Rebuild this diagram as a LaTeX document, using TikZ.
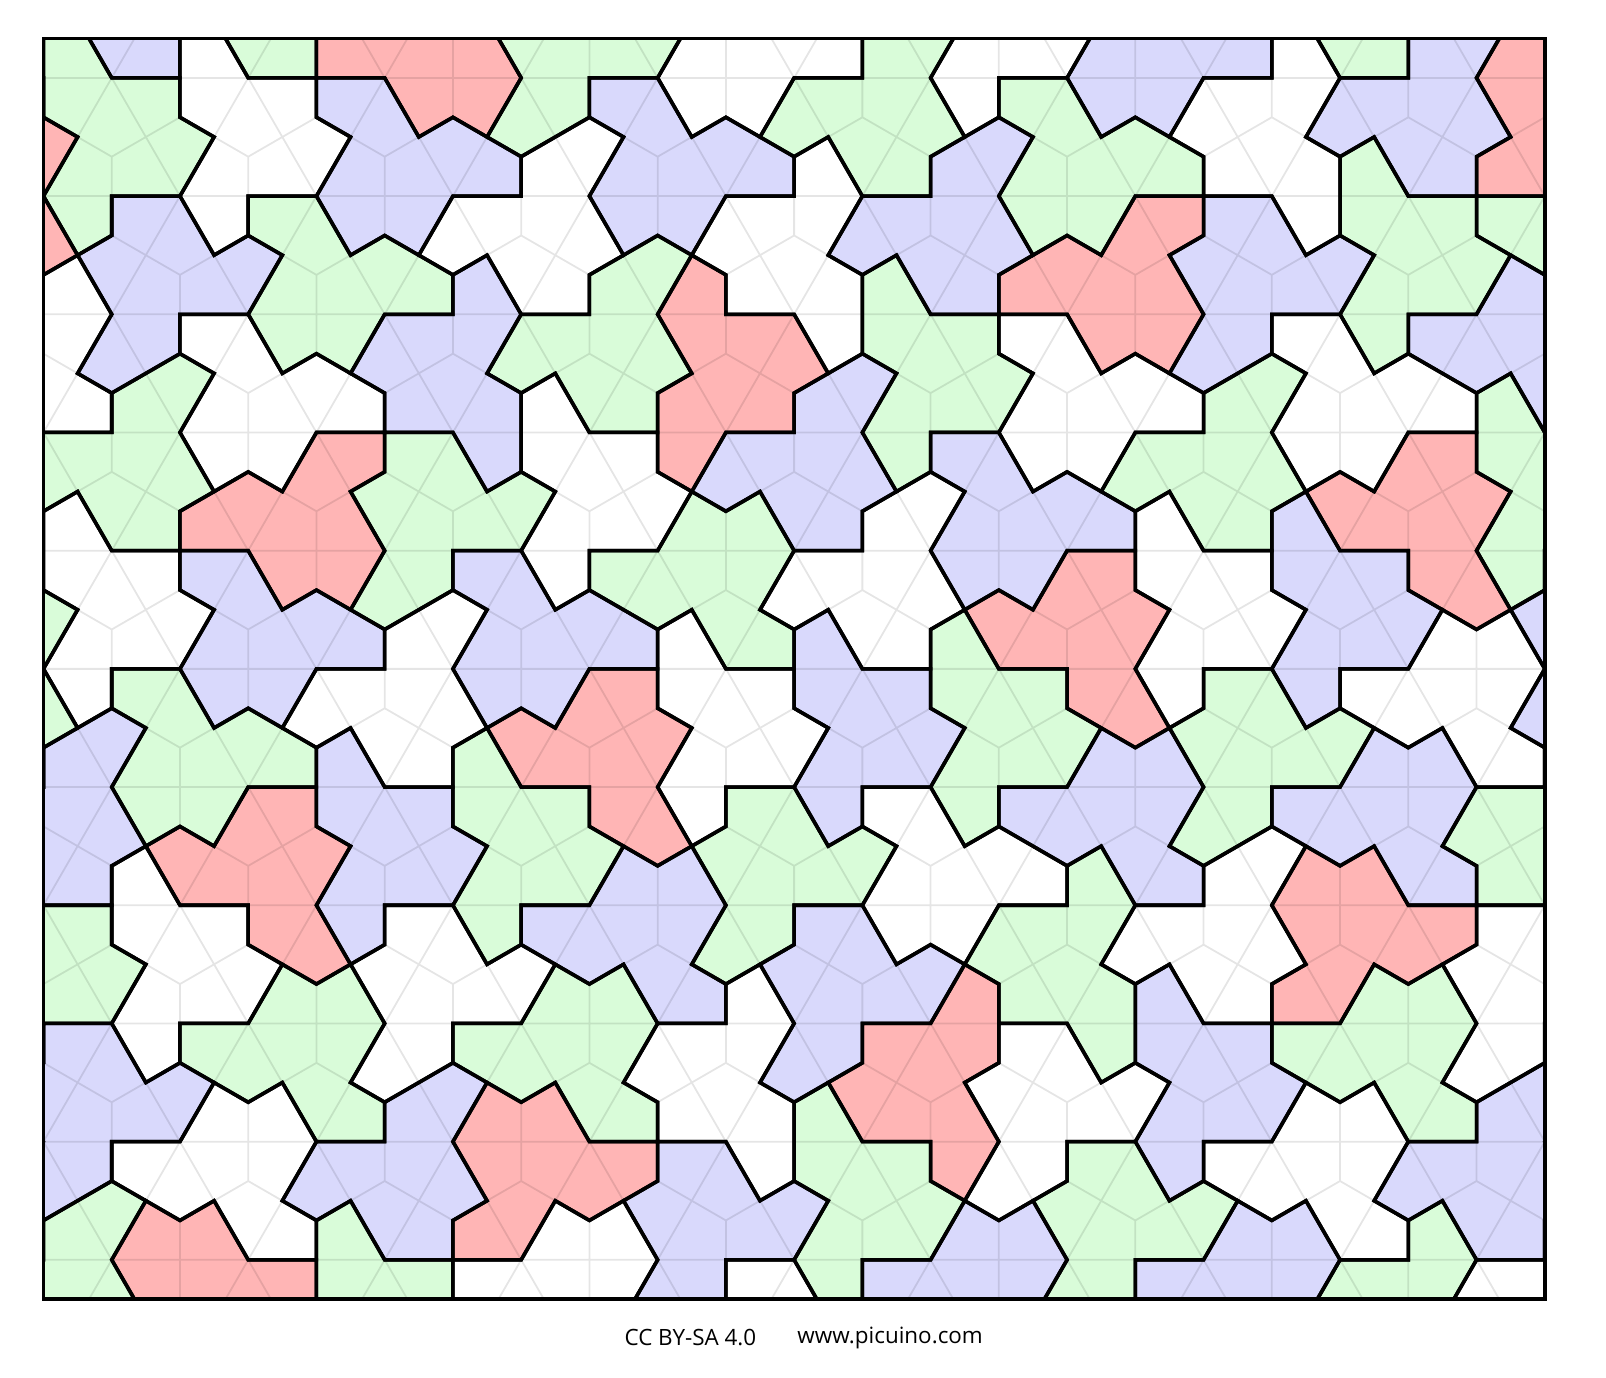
\documentclass[tikz,border=0pt]{standalone}
\usepackage{fontspec}
\newfontfamily\notefont{Open Sans}
\definecolor{tgreen}{RGB}{217,252,217}
\definecolor{tblue}{RGB}{217,217,252}
\definecolor{tred}{RGB}{255,181,181}
\begin{document}
\begin{tikzpicture}[x=1cm,y=1cm,
  gridsty/.style={line width=0.045cm,draw=black,draw opacity=0.1},
  tileedge/.style={line width=0.09cm,draw=black,line join=miter},
  framesty/.style={line width=0.09cm,draw=black}]
\useasboundingbox (-1.104,0.977) rectangle (39.66,-33.997);
\def\hatpath{(0,0) -- (-1.5,-0.8660254) -- (-1,-1.7320508) -- (1,-1.7320508) -- (1.5,-0.8660254) -- (3,-1.7320508) -- (4.5,-0.8660254) -- (4,0) -- (3,0) -- (3,1.7320508) -- (1.5,2.5980762) -- (1,1.7320508) -- (0,1.7320508) -- cycle}
\def\tilelist{0/-1/330/1/tblue, 2/-1/330/1/tgreen, 14/-1/270/1/white, 18/-1/330/1/tgreen,
1/0/270/1/tgreen, 3/0/270/1/white, 5/0/30/-1/tred, 7/0/30/1/tgreen, 11/0/150/1/white, 13/0/210/1/tgreen, 17/0/150/1/tblue, 21/0/210/1/tblue, 23/0/210/-1/tred,
0/1/150/-1/tred, 6/1/150/1/tblue, 8/1/210/1/white, 10/1/150/1/tblue, 14/1/210/1/tblue, 16/1/150/1/tgreen, 18/1/90/1/white, 20/1/270/1/tgreen, 22/1/330/1/tgreen,
-1/2/330/1/white, 1/2/30/1/tblue, 5/2/150/1/tgreen, 9/2/210/1/tgreen, 11/2/90/1/white, 13/2/270/1/tgreen, 15/2/30/-1/tred, 17/2/30/1/tblue, 21/2/330/1/tblue,
2/3/210/1/tgreen, 4/3/150/1/white, 6/3/90/1/tblue, 8/3/270/1/white, 10/3/90/-1/tred, 12/3/210/1/tblue, 16/3/150/1/white, 18/3/210/1/tgreen, 20/3/150/1/white, 22/3/270/1/tgreen,
1/4/270/1/white, 3/4/30/-1/tred, 5/4/30/1/tgreen, 9/4/330/1/tgreen, 13/4/210/1/white, 15/4/150/1/tblue, 17/4/270/1/white, 19/4/270/1/tblue, 21/4/150/-1/tred,
0/5/210/1/tgreen, 4/5/150/1/tblue, 6/5/210/1/white, 8/5/150/1/tblue, 10/5/270/1/white, 12/5/270/1/tblue, 14/5/270/1/tgreen, 16/5/150/-1/tred, 20/5/330/1/white, 22/5/30/1/tblue,
1/6/210/1/tblue, 3/6/150/1/tgreen, 5/6/270/1/tblue, 7/6/270/1/tgreen, 9/6/150/-1/tred, 15/6/330/1/tblue, 17/6/30/1/tgreen, 19/6/330/1/tblue,
0/7/270/1/tgreen, 2/7/270/1/white, 4/7/150/-1/tred, 8/7/330/1/tblue, 10/7/30/1/tgreen, 14/7/150/1/white, 18/7/210/1/white, 20/7/210/-1/tred, 22/7/90/1/tgreen,
3/8/330/1/tgreen, 5/8/30/1/white, 7/8/330/1/tgreen, 11/8/30/1/tblue, 13/8/270/-1/tred, 15/8/90/1/tgreen, 17/8/270/1/tblue, 19/8/330/1/tgreen, 21/8/30/1/white,
0/9/30/1/tblue, 2/9/330/1/white, 6/9/210/1/tblue, 8/9/210/-1/tred, 10/9/90/1/white, 12/9/270/1/tgreen, 14/9/30/1/white, 18/9/330/1/white, 22/9/210/1/tblue,
1/10/210/1/tgreen, 3/10/210/-1/tred, 5/10/270/1/tgreen, 7/10/330/1/white, 9/10/30/1/tblue, 13/10/330/1/tblue, 15/10/30/1/tgreen, 17/10/330/1/tblue, 23/10/210/1/white,
12/11/150/1/white, 20/11/90/1/tgreen}
\begin{scope}
\clip (0,0) rectangle (38.1051,-32);
\foreach \jj/\rr/\ang/\sg/\col in \tilelist {
  \fill[\col, shift={({\jj*1.7320508},{-1-3*(\rr)})}, rotate=\ang, yscale=\sg] \hatpath;
}
\draw[gridsty]
  \foreach \rr in {-1,1,...,11} { \foreach \jj in {0,2,...,22} {
    ({\jj*1.7320508},{-1-3*(\rr)}) ++(-1.7320508,0) -- ++(3.4641016,0)
    ({\jj*1.7320508},{-1-3*(\rr)}) ++(-0.8660254,-1.5) -- ++(1.7320508,3)
    ({\jj*1.7320508},{-1-3*(\rr)}) ++(0.8660254,-1.5) -- ++(-1.7320508,3)
    ({\jj*1.7320508},{-1-3*(\rr)}) ++(0,2) -- ++(1.7320508,-1) -- ++(0,-2) -- ++(-1.7320508,-1) -- ++(-1.7320508,1) -- ++(0,2) -- cycle
  } }
  \foreach \rr in {0,2,...,10} { \foreach \jj in {-1,1,...,23} {
    ({\jj*1.7320508},{-1-3*(\rr)}) ++(-1.7320508,0) -- ++(3.4641016,0)
    ({\jj*1.7320508},{-1-3*(\rr)}) ++(-0.8660254,-1.5) -- ++(1.7320508,3)
    ({\jj*1.7320508},{-1-3*(\rr)}) ++(0.8660254,-1.5) -- ++(-1.7320508,3)
    ({\jj*1.7320508},{-1-3*(\rr)}) ++(0,2) -- ++(1.7320508,-1) -- ++(0,-2) -- ++(-1.7320508,-1) -- ++(-1.7320508,1) -- ++(0,2) -- cycle
  } };
\foreach \jj/\rr/\ang/\sg/\col in \tilelist {
  \draw[tileedge, shift={({\jj*1.7320508},{-1-3*(\rr)})}, rotate=\ang, yscale=\sg] \hatpath;
}
\end{scope}
\draw[framesty] (0,0) rectangle (38.1051,-32);
\node[font=\notefont\fontsize{16.2}{19}\selectfont] (lic) at (16.42,-32.98) {CC BY-SA 4.0};
\node[font=\notefont\fontsize{16.2}{19}\selectfont] (url) at (21.49,-32.98) {www.picuino.com};
\end{tikzpicture}
\end{document}
